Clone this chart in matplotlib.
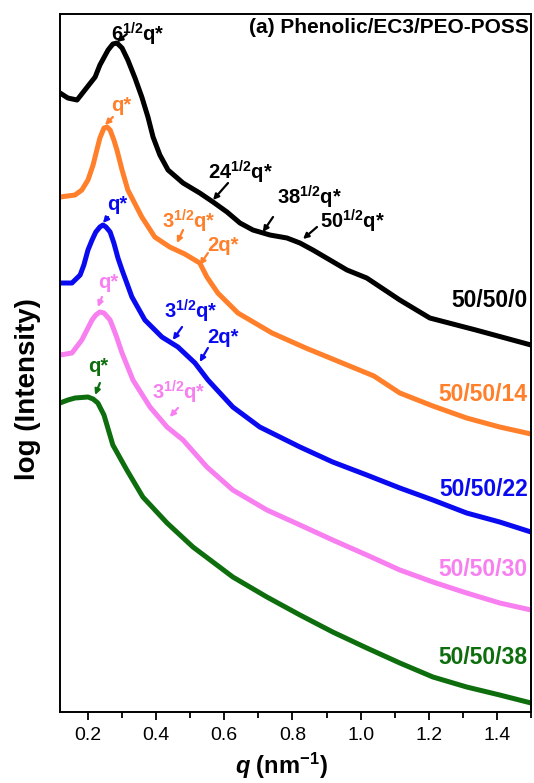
import matplotlib
matplotlib.use('Agg')
import matplotlib.pyplot as plt
from matplotlib.ticker import MultipleLocator

plt.rcParams['font.family'] = ['Liberation Sans', 'DejaVu Sans']
plt.rcParams['mathtext.fontset'] = 'custom'
plt.rcParams['mathtext.rm'] = 'Liberation Sans:bold'
plt.rcParams['mathtext.bf'] = 'Liberation Sans:bold'
plt.rcParams['mathtext.it'] = 'Liberation Sans:italic:bold'

# SAXS profiles (log intensity in arbitrary offset units)
q_0 = [0.118, 0.141, 0.168, 0.191, 0.221, 0.235, 0.259, 0.273, 0.285, 0.300, 0.317, 0.338, 0.358,
       0.376, 0.391, 0.411, 0.435, 0.479, 0.528, 0.567, 0.608, 0.646, 0.684, 0.734, 0.784, 0.822,
       0.860, 0.910, 0.960, 1.018, 1.115, 1.203, 1.338, 1.5]
i_0 = [61.9, 61.4, 61.2, 62.2, 63.5, 64.7, 66.2, 66.8, 66.9, 66.4, 65.2, 63.4, 61.5,
       59.5, 57.5, 55.7, 54.2, 52.9, 51.9, 51.0, 50.0, 48.9, 48.2, 47.7, 47.4, 46.9,
       46.2, 45.2, 44.2, 43.4, 41.2, 39.4, 38.2, 36.7]

q_14 = [0.118, 0.162, 0.182, 0.200, 0.215, 0.226, 0.235, 0.247, 0.256, 0.265, 0.276, 0.285, 0.300,
        0.317, 0.358, 0.396, 0.440, 0.484, 0.528, 0.549, 0.581, 0.640, 0.740, 0.839, 0.939, 1.039,
        1.115, 1.212, 1.311, 1.408, 1.5]
i_14 = [51.5, 51.7, 52.2, 53.2, 54.7, 56.2, 57.4, 58.4, 58.5, 58.2, 57.2, 56.2, 54.2,
        52.2, 49.5, 47.5, 46.5, 45.8, 44.9, 43.5, 41.9, 39.9, 37.9, 36.4, 35.0, 33.6,
        31.9, 30.6, 29.4, 28.5, 27.8]

q_22 = [0.118, 0.153, 0.177, 0.188, 0.200, 0.212, 0.223, 0.235, 0.244, 0.253, 0.265, 0.276, 0.288,
        0.300, 0.329, 0.367, 0.417, 0.464, 0.514, 0.552, 0.625, 0.704, 0.822, 0.918, 1.018, 1.115,
        1.212, 1.311, 1.408, 1.5]
i_22 = [42.9, 42.9, 43.7, 44.7, 46.2, 47.2, 48.0, 48.5, 48.7, 48.5, 48.0, 46.9, 45.4,
        44.2, 41.5, 39.2, 37.5, 36.5, 34.9, 33.2, 30.5, 28.5, 26.5, 25.0, 23.7, 22.4,
        21.2, 19.9, 19.0, 18.0]

q_30 = [0.118, 0.153, 0.182, 0.197, 0.212, 0.223, 0.235, 0.247, 0.265, 0.282, 0.300, 0.332, 0.382,
        0.432, 0.479, 0.549, 0.625, 0.725, 0.822, 0.918, 1.018, 1.115, 1.212, 1.311, 1.408, 1.5]
i_30 = [35.7, 35.9, 37.2, 38.2, 39.2, 39.7, 40.0, 39.9, 39.2, 37.7, 35.9, 33.2, 30.5,
        28.5, 27.2, 24.5, 22.2, 20.2, 18.7, 17.2, 15.7, 14.2, 13.0, 11.9, 10.9, 10.2]

q_38 = [0.118, 0.141, 0.162, 0.200, 0.215, 0.229, 0.247, 0.273, 0.314, 0.361, 0.432, 0.508, 0.625,
        0.725, 0.822, 0.918, 1.018, 1.115, 1.212, 1.311, 1.408, 1.5]
i_38 = [30.9, 31.2, 31.4, 31.5, 31.3, 30.9, 29.7, 26.7, 24.2, 21.5, 18.9, 16.5, 13.5,
        11.5, 9.7, 8.0, 6.4, 4.9, 3.5, 2.5, 1.7, 0.9]

labels = ['50/50/0', '50/50/14', '50/50/22', '50/50/30', '50/50/38']
label_y = [41.2, 31.7, 22.2, 14.2, 5.4]
colors = ['black', '#FF7F2A', '#0A0AF0', '#F77FF0', '#0E6E0E']
qs = [q_0, q_14, q_22, q_30, q_38]
ints = [i_0, i_14, i_22, i_30, i_38]

# peak annotations: text, colour index, text pos, arrow tail, arrow tip
peaks = [
    (r'$\mathbf{6^{1/2}}$q*', 0, (0.347, 67.8), (0.314, 67.8), (0.285, 67.0)),
    (r'$\mathbf{24^{1/2}}$q*', 0, (0.646, 54.0), (0.611, 52.9), (0.567, 51.2)),
    (r'$\mathbf{38^{1/2}}$q*', 0, (0.851, 51.5), (0.743, 49.5), (0.713, 48.0)),
    (r'$\mathbf{50^{1/2}}$q*', 0, (0.977, 49.1), (0.872, 48.5), (0.831, 47.3)),
    ('q*', 1, (0.297, 60.7), (0.273, 59.5), (0.250, 58.7)),
    (r'$\mathbf{3^{1/2}}$q*', 1, (0.496, 49.1), (0.479, 48.2), (0.461, 46.9)),
    ('2q*', 1, (0.596, 46.7), (0.552, 45.9), (0.528, 44.7)),
    ('q*', 2, (0.285, 50.8), (0.259, 49.5), (0.244, 48.9)),
    (r'$\mathbf{3^{1/2}}$q*', 2, (0.502, 40.1), (0.476, 38.5), (0.449, 37.2)),
    ('2q*', 2, (0.596, 37.5), (0.552, 36.4), (0.528, 35.0)),
    ('q*', 3, (0.259, 43.0), (0.241, 41.5), (0.229, 40.5)),
    (r'$\mathbf{3^{1/2}}$q*', 3, (0.467, 32.0), (0.464, 30.4), (0.440, 29.5)),
    ('q*', 4, (0.229, 34.5), (0.235, 32.9), (0.221, 31.7)),
]

fig = plt.figure(figsize=(5.34, 7.83), dpi=100)
ax = fig.add_axes([0.1124, 0.0907, 0.882, 0.8914])

for q, inten, c in zip(qs, ints, colors):
    ax.plot(q, inten, color=c, lw=3.6, solid_joinstyle='round', solid_capstyle='round')

for lab, y, c in zip(labels, label_y, colors):
    ax.text(1.49, y, lab, color=c, fontsize=16.5, fontweight='bold', ha='right', va='center')

for txt, ci, tpos, tail, tip in peaks:
    ax.text(tpos[0], tpos[1], txt, color=colors[ci], fontsize=14.5, fontweight='bold',
            ha='center', va='center')
    ax.annotate('', xy=tip, xytext=tail,
                arrowprops=dict(arrowstyle='-|>', color=colors[ci], lw=1.6, mutation_scale=8,
                                shrinkA=0, shrinkB=0))

ax.text(0.995, 0.98, '(a) Phenolic/EC3/PEO-POSS', transform=ax.transAxes,
        ha='right', va='center', fontsize=15, fontweight='bold')

ax.set_xlim(0.118, 1.5)
ax.set_ylim(0, 69.8)
ax.xaxis.set_major_locator(MultipleLocator(0.2))
ax.xaxis.set_minor_locator(MultipleLocator(0.1))
ax.set_yticks([])
ax.tick_params(axis='x', which='major', direction='out', length=6, width=1.3, labelsize=14, pad=5,
               top=False)
ax.tick_params(axis='x', which='minor', direction='out', length=4, width=1.3, top=False)
for s in ax.spines.values():
    s.set_linewidth(1.4)

ax.set_xlabel(r'$q$ (nm$^{\mathbf{-1}}$)', fontsize=17, fontweight='bold')
ax.set_ylabel('log (Intensity)', fontsize=20, fontweight='bold')
ax.xaxis.set_label_coords(0.471, -0.055)
ax.yaxis.set_label_coords(-0.04, 0.463)

fig.savefig('out.png', dpi=100)
